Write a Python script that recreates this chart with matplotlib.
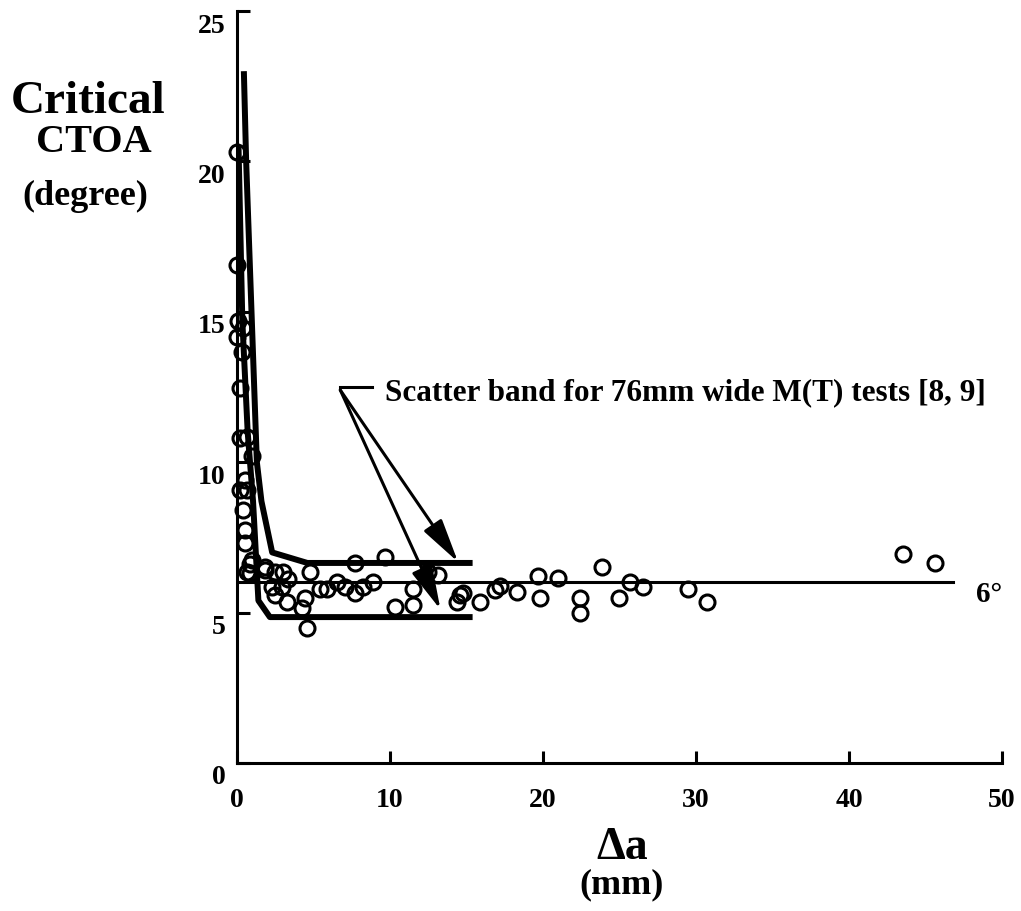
# plot.py
# Critical CTOA vs crack extension, with scatter band of 76mm M(T) tests

import numpy as np
import matplotlib.pyplot as plt
from matplotlib.transforms import ScaledTranslation

plt.rcParams['font.family'] = ['Liberation Serif', 'DejaVu Serif']
plt.rcParams['font.weight'] = 'bold'

# Measured data points (delta a in mm, critical CTOA in degrees)
da = [0.0, 0.0, 0.07, 0.4, 0.0, 0.33, 0.2, 0.2, 0.65, 1.0, 0.5, 0.2, 0.65,
      0.4, 0.5, 0.5, 1.0, 0.85, 1.85, 0.85, 0.65, 1.85, 2.5, 3.0, 3.35,
      2.3, 2.95, 2.5, 3.25, 4.45, 4.25, 4.75, 4.6, 5.4, 5.9, 6.55, 7.05,
      7.7, 7.7, 8.25, 8.9, 9.65, 10.35, 11.5, 11.5, 12.5, 13.15, 14.4,
      14.75, 14.6, 15.9, 16.85, 17.2, 18.3, 19.7, 19.8, 21.0, 22.4, 22.4,
      23.85, 25.0, 25.7, 26.55, 29.5, 30.7, 43.5, 45.6]
ctoa = [20.3, 16.55, 14.7, 14.45, 14.15, 13.65, 12.45, 10.8, 10.85, 10.2,
        9.4, 9.07, 9.07, 8.4, 7.75, 7.3, 6.75, 6.3, 6.4, 6.6, 6.35, 6.5,
        6.35, 6.35, 6.1, 5.85, 5.85, 5.6, 5.35, 5.5, 5.15, 6.35, 4.5, 5.8,
        5.8, 6.0, 5.85, 6.65, 5.65, 5.85, 6.0, 6.85, 5.2, 5.8, 5.25, 6.35,
        6.25, 5.35, 5.65, 5.6, 5.35, 5.75, 5.9, 5.7, 6.2, 5.5, 6.15, 5.5,
        5.0, 6.5, 5.5, 6.0, 5.85, 5.8, 5.35, 6.95, 6.65]

# Scatter band bounds for 76mm wide M(T) tests
band_upper_x = [0.45, 0.6, 0.95, 1.3, 1.6, 2.3, 4.6, 15.4]
band_upper_y = [23.0, 20.0, 15.0, 10.0, 8.7, 7.0, 6.65, 6.65]
band_lower_x = [0.1, 0.35, 0.7, 1.05, 1.4, 2.15, 15.4]
band_lower_y = [20.5, 14.7, 11.0, 8.7, 5.4, 4.85, 4.85]

# Constant 6 degree line
ref_x = [0, 46.8]
ref_y = [6, 6]

# Annotation: label origin and arrow tips
note_origin = (6.75, 12.4)
arrow_tips = [(14.45, 6.68), (13.3, 5.1)]

x_ticks = [0, 10, 20, 30, 40, 50]
y_ticks = [0, 5, 10, 15, 20, 25]

fig = plt.figure(figsize=(10.21, 9.11), dpi=100)
ax = fig.add_axes([0.2321, 0.1625, 0.7493, 0.8254])

ax.plot(band_upper_x, band_upper_y, color='black', lw=4.3, solid_capstyle='butt')
ax.plot(band_lower_x, band_lower_y, color='black', lw=4.3, solid_capstyle='butt')
ax.plot(ref_x, ref_y, color='black', lw=2.2)
ax.plot(da, ctoa, 'o', ms=10.8, mfc='none', mec='black', mew=2.2, clip_on=False)

# bracket and arrows
ax.plot([note_origin[0], note_origin[0] + 2.05], [12.5, 12.5], color='black', lw=2.2)
for tip in arrow_tips:
    ax.annotate('', xy=tip, xytext=note_origin,
                arrowprops=dict(arrowstyle='-|>,head_length=0.9,head_width=0.22',
                                mutation_scale=30, color='black', lw=2.2,
                                shrinkA=0, shrinkB=0))
ax.text(9.7, 12.3, 'Scatter band for 76mm wide M(T) tests [8, 9]',
        fontsize=22.5, fontweight='bold', va='center', ha='left')
ax.text(48.3, 5.6, '6°', fontsize=21, fontweight='bold', va='center', ha='left')

ax.set_xlim(0, 50)
ax.set_ylim(0, 25)
ax.spines['top'].set_visible(False)
ax.spines['right'].set_visible(False)
ax.spines['left'].set_linewidth(2.2)
ax.spines['bottom'].set_linewidth(2.2)
ax.set_xticks(x_ticks)
ax.set_yticks(y_ticks)
ax.tick_params(axis='both', direction='in', length=9, width=2.2, labelsize=20)
ax.tick_params(axis='x', pad=18)
ax.tick_params(axis='y', pad=8)
for lab in ax.get_xticklabels() + ax.get_yticklabels():
    lab.set_fontweight('bold')

# y tick labels sit a bit below their ticks in the original
shift = ScaledTranslation(0, -12 / 100, fig.dpi_scale_trans)
for lab in ax.get_yticklabels():
    lab.set_transform(lab.get_transform() + shift)

# axis titles
fig.text(88 / 1021, 1 - 102 / 911, 'Critical', fontsize=34, fontweight='bold', ha='center', va='center')
fig.text(94 / 1021, 1 - 143 / 911, 'CTOA', fontsize=29, fontweight='bold', ha='center', va='center')
fig.text(85 / 1021, 1 - 196 / 911, '(degree)', fontsize=26, fontweight='bold', ha='center', va='center')
fig.text(622 / 1021, 1 - 848 / 911, 'Δa', fontsize=33, fontweight='bold', ha='center', va='center')
fig.text(622 / 1021, 1 - 885 / 911, '(mm)', fontsize=26, fontweight='bold', ha='center', va='center')

plt.savefig('out.png', dpi=100)
plt.close()
